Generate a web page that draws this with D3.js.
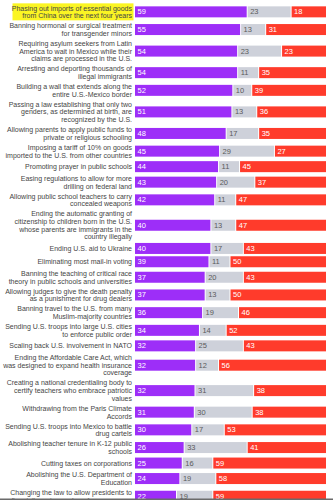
<!DOCTYPE html>
<html><head><meta charset="utf-8">
<script src="https://cdn.jsdelivr.net/npm/d3@7"></script>
<style>html,body{margin:0;padding:0;background:#fff;overflow:hidden}</style>
</head><body>
<svg id="c" width="333" height="500"></svg>
<script>
const policies = [
"Phasing out imports of essential goods\nfrom China over the next four years",
"Banning hormonal or surgical treatment\nfor transgender minors",
"Requiring asylum seekers from Latin\nAmerica to wait in Mexico while their\nclaims are processed in the U.S.",
"Arresting and deporting thousands of\nillegal immigrants",
"Building a wall that extends along the\nentire U.S.-Mexico border",
"Passing a law establishing that only two\ngenders, as determined at birth, are\nrecognized by the U.S.",
"Allowing parents to apply public funds to\nprivate or religious schooling",
"Imposing a tariff of 10% on goods\nimported to the U.S. from other countries",
"Promoting prayer in public schools",
"Easing regulations to allow for more\ndrilling on federal land",
"Allowing public school teachers to carry\nconcealed weapons",
"Ending the automatic granting of\ncitizenship to children born in the U.S.\nwhose parents are immigrants in the\ncountry illegally",
"Ending U.S. aid to Ukraine",
"Eliminating most mail-in voting",
"Banning the teaching of critical race\ntheory in public schools and universities",
"Allowing judges to give the death penalty\nas a punishment for drug dealers",
"Banning travel to the U.S. from many\nMuslim-majority countries",
"Sending U.S. troops into large U.S. cities\nto enforce public order",
"Scaling back U.S. involvement in NATO",
"Ending the Affordable Care Act, which\nwas designed to expand health insurance\ncoverage",
"Creating a national credentialing body to\ncertify teachers who embrace patriotic\nvalues",
"Withdrawing from the Paris Climate\nAccords",
"Sending U.S. troops into Mexico to battle\ndrug cartels",
"Abolishing teacher tenure in K-12 public\nschools",
"Cutting taxes on corporations",
"Abolishing the U.S. Department of\nEducation",
"Changing the law to allow presidents to\nfire civil service workers for any reason"
];
const support = [59,55,54,54,52,51,48,45,44,43,42,40,40,39,37,37,36,34,32,32,32,31,30,26,25,24,22];
const neither = [23,13,23,11,10,13,17,29,11,20,11,13,17,11,20,13,19,14,25,12,31,30,17,33,16,19,19];
const oppose  = [18,31,23,35,39,36,35,27,45,37,47,47,43,50,43,50,46,52,43,56,38,38,53,41,59,58,59];
const highlighted = [0];

const colors = ["#9d2ef8", "#ced1da", "#ff3b2b"];
const textColors = ["#ffffff", "#5a5a5a", "#ffffff"];

const svg = d3.select("#c");
const barX0 = 135, barX1 = 326, barH = 11, lineH = 7.7;
const labelX = 132;

const rows = policies.map((p, i) => {
  const lines = p.split("\n");
  const h = Math.max(lines.length * lineH, barH) + 2.3;
  return {lines, h, vals: [support[i], neither[i], oppose[i]], i};
});
let y = 3.0;
rows.forEach(r => { r.cy = y + r.h / 2; y += r.h; });

const g = svg.append("g");
rows.forEach(r => {
  const total = d3.sum(r.vals);
  const x = d3.scaleLinear().domain([0, total]).range([barX0, barX1]);
  const rg = g.append("g");
  const nL = r.lines.length;
  const firstY = r.cy - (nL - 1) * lineH / 2;
  if (highlighted.includes(r.i)) {
    rg.append("rect").attr("x", 12.5).attr("y", firstY - lineH/2 - 0.8)
      .attr("width", labelX - 12.5 + 1.5).attr("height", nL * lineH + 1.6)
      .attr("fill", "#fbf523");
  }
  const t = rg.append("text").attr("text-anchor", "end")
    .attr("font-family", "Liberation Sans, Arial, sans-serif")
    .attr("font-size", 7).attr("fill", "#454545");
  r.lines.forEach((ln, k) => {
    t.append("tspan").attr("x", labelX).attr("y", firstY + k * lineH + 2.5).text(ln);
  });
  let acc = 0;
  r.vals.forEach((v, k) => {
    const xs = x(acc), xe = x(acc + v);
    rg.append("rect").attr("x", xs).attr("y", r.cy - barH / 2)
      .attr("width", Math.max(0, xe - xs - (k < 2 ? 1 : 0))).attr("height", barH)
      .attr("fill", colors[k]);
    rg.append("text").attr("x", xs + 2.5).attr("y", r.cy + 2.5)
      .attr("font-family", "Liberation Sans, Arial, sans-serif")
      .attr("font-size", 7.5).attr("fill", textColors[k]).text(v);
    acc += v;
  });
});

svg.append("rect").attr("x", 0).attr("y", 498.5).attr("width", 333).attr("height", 1.5).attr("fill", "#6b6b6b");
</script>
</body></html>
